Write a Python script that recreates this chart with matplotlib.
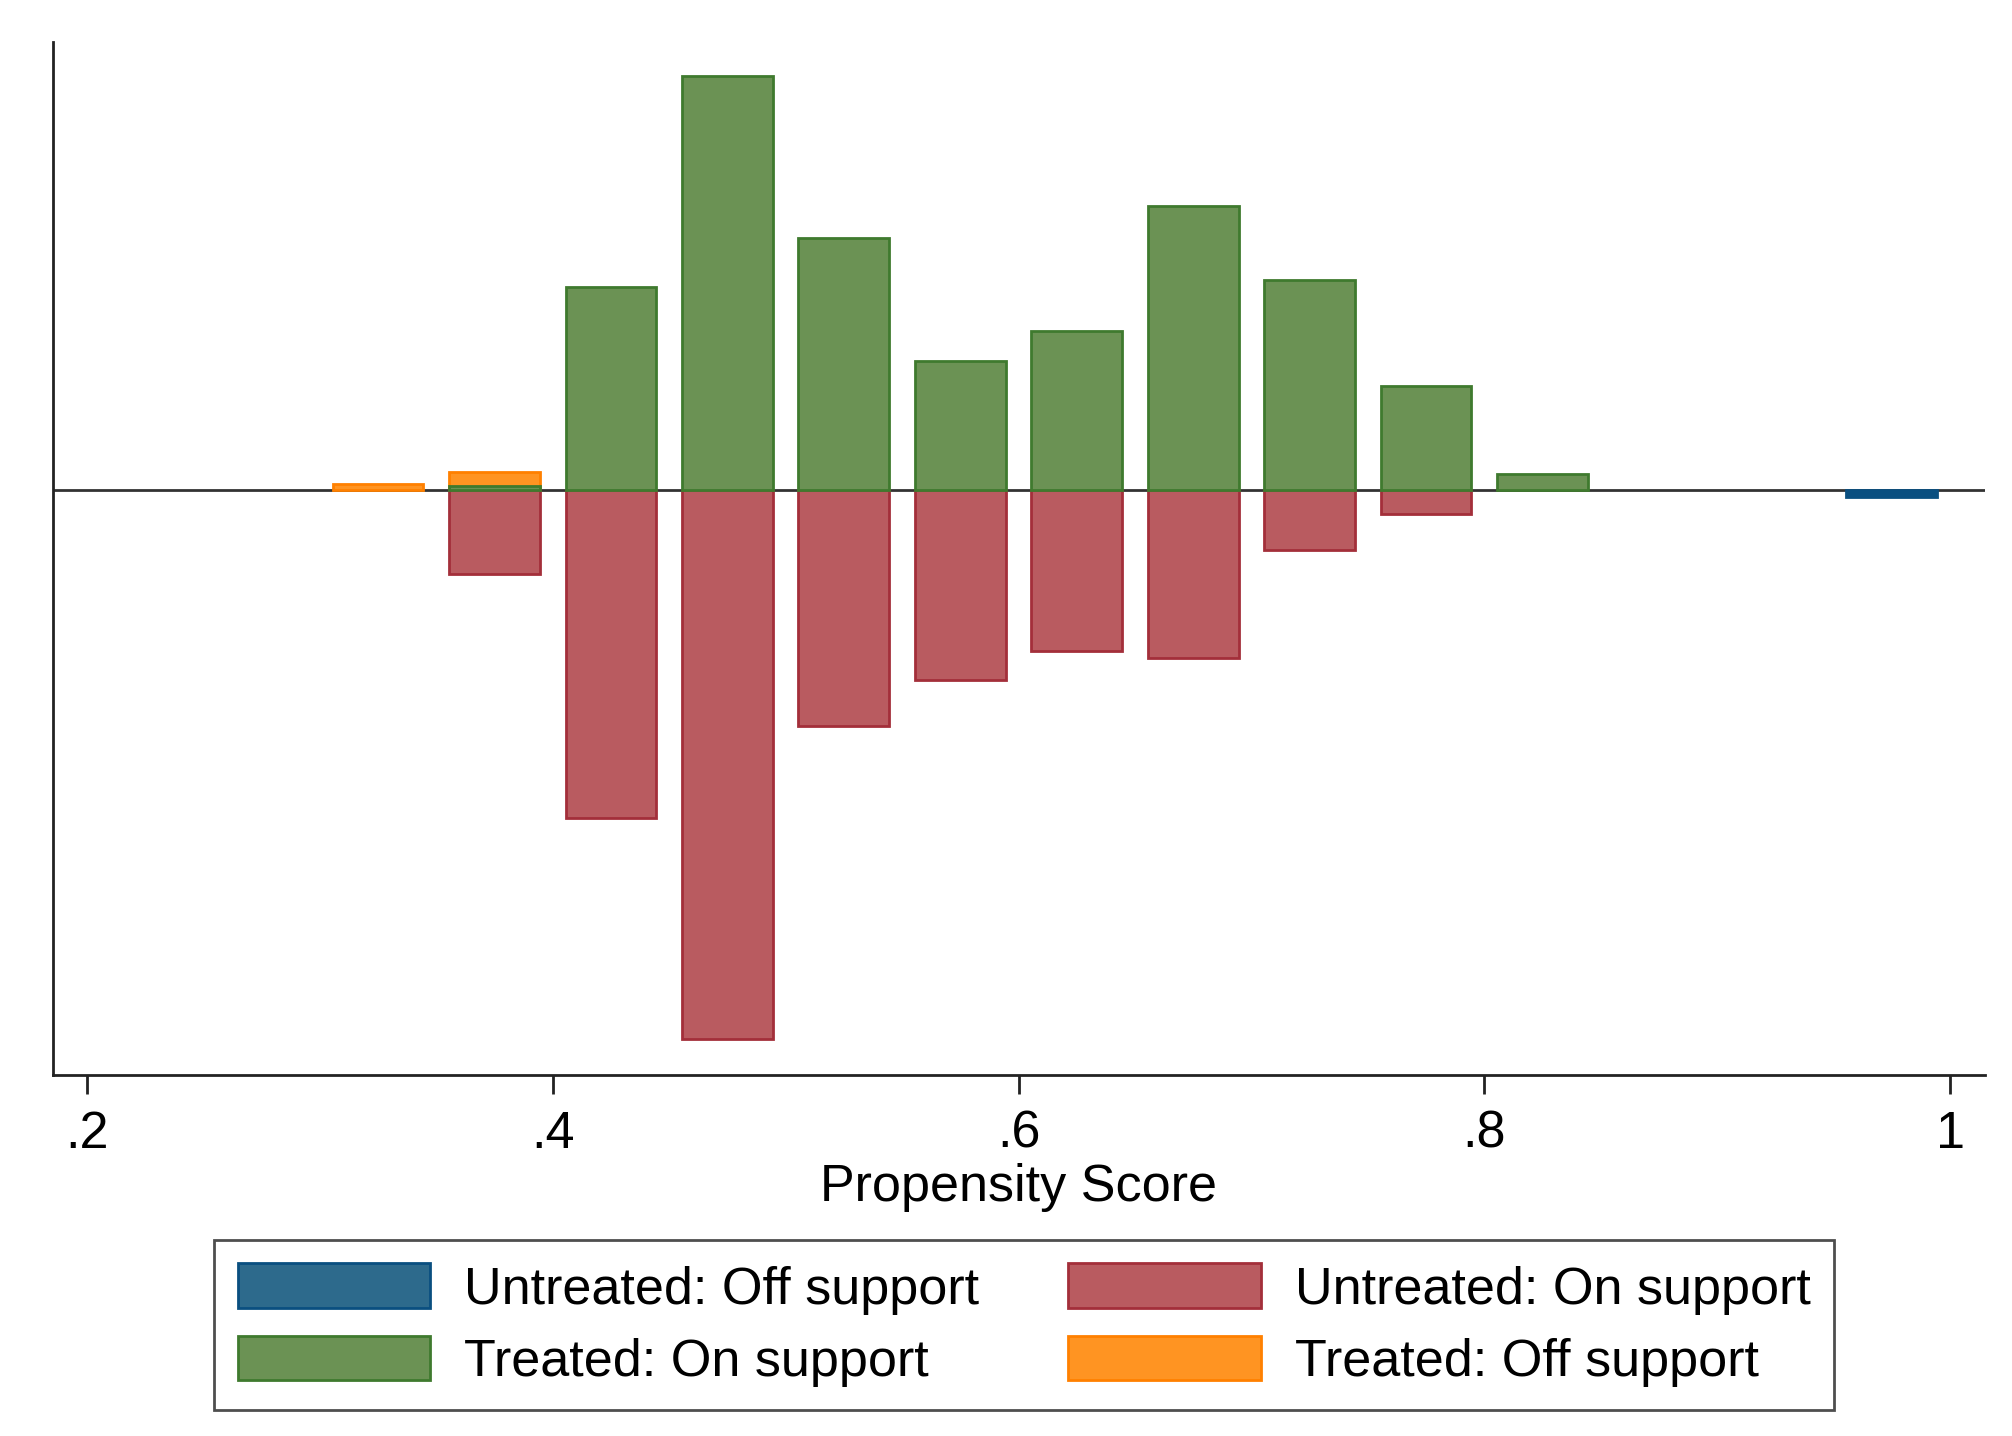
import matplotlib.pyplot as plt
import matplotlib.patches as mpatches
import numpy as np

# bin centres (propensity score) and bar heights for each group
treated_on_x = [0.375, 0.425, 0.475, 0.525, 0.575, 0.625, 0.675, 0.725, 0.775, 0.825]
treated_on = [0.04, 2.03, 4.14, 2.52, 1.29, 1.59, 2.84, 2.10, 1.04, 0.16]

treated_off_x = [0.325, 0.375]
treated_off = [0.06, 0.18]

untreated_on_x = [0.375, 0.425, 0.475, 0.525, 0.575, 0.625, 0.675, 0.725, 0.775]
untreated_on = [0.84, 3.28, 5.49, 2.36, 1.90, 1.61, 1.68, 0.60, 0.24]

untreated_off_x = [0.975]
untreated_off = [0.07]

tick_vals = [0.2, 0.4, 0.6, 0.8, 1.0]
tick_labels = ['.2', '.4', '.6', '.8', '1']

labels = ['Untreated: Off support', 'Treated: On support',
          'Untreated: On support', 'Treated: Off support']

plt.rcParams['font.family'] = ['Liberation Sans', 'DejaVu Sans']

fig = plt.figure(figsize=(20.12, 14.36), dpi=100)
ax = fig.add_axes([0.0263, 0.2514, 0.9603, 0.7194])

width = 0.039
lw = 2
fs = 37.5

# colours: fill, edge
blue = ('#2d6a8c', '#0a4f80')
green = ('#6b9254', '#3f7a2e')
red = ('#b95b60', '#a32f3a')
orange = ('#ff9422', '#ff8000')

ax.axhline(0, color='#333333', linewidth=2, zorder=1)

ax.bar(treated_off_x, treated_off, width=width, color=orange[0],
       edgecolor=orange[1], linewidth=lw, zorder=2)
ax.bar(treated_on_x, treated_on, width=width, color=green[0],
       edgecolor=green[1], linewidth=lw, zorder=3)
ax.bar(untreated_on_x, -np.array(untreated_on), width=width, color=red[0],
       edgecolor=red[1], linewidth=lw, zorder=2)
ax.bar(untreated_off_x, -np.array(untreated_off), width=width, color=blue[1],
       edgecolor=blue[1], linewidth=lw, zorder=2)

ax.set_xlim(0.1854, 1.015)
ax.set_ylim(-5.85, 4.48)

ax.spines['top'].set_visible(False)
ax.spines['right'].set_visible(False)
ax.spines['left'].set_linewidth(2)
ax.spines['bottom'].set_linewidth(2)
ax.spines['left'].set_color('#222222')
ax.spines['bottom'].set_color('#222222')

ax.set_yticks([])
ax.set_xticks(tick_vals)
ax.set_xticklabels(tick_labels)
ax.tick_params(axis='x', length=14, width=2, pad=11, labelsize=fs, color='#222222')
ax.set_xlabel('Propensity Score', fontsize=fs, labelpad=3)

handles = [
    mpatches.Patch(facecolor=blue[0], edgecolor=blue[1], linewidth=lw),
    mpatches.Patch(facecolor=green[0], edgecolor=green[1], linewidth=lw),
    mpatches.Patch(facecolor=red[0], edgecolor=red[1], linewidth=lw),
    mpatches.Patch(facecolor=orange[0], edgecolor=orange[1], linewidth=lw),
]
leg = fig.legend(handles, labels, ncol=2, loc='center',
                 bbox_to_anchor=(0.509, 0.0772), fontsize=fs,
                 handlelength=3.7, handleheight=0.95, handletextpad=0.65,
                 columnspacing=1.7, labelspacing=0.4, borderpad=0.45,
                 frameon=True, fancybox=False, edgecolor='#222222')
leg.get_frame().set_linewidth(2)

fig.savefig('out.png', dpi=100, facecolor='white')
